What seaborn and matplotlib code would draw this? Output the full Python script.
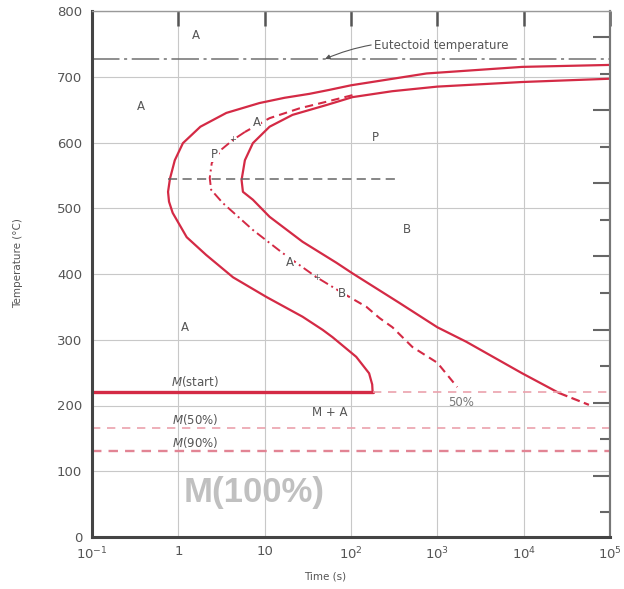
import matplotlib
matplotlib.use("Agg")
import matplotlib.pyplot as plt
from matplotlib.ticker import FixedLocator, NullLocator, NullFormatter
import pandas as pd
import seaborn as sns

sns.set_style("white")
plt.rcParams["font.family"] = ["DejaVu Sans"]

# Isothermal transformation curves: time (s) and temperature (°C)
start_time = [1e5, 9600, 750, 100, 56, 33, 17, 8.7, 3.6, 1.8, 1.13, 0.91, 0.80, 0.76,
              0.78, 0.86, 1.25, 2.1, 4.3, 10.5, 27.5, 47, 61, 115, 162, 176, 178]
start_temp = [718, 715, 705, 687, 680, 674, 668, 660, 645, 624, 599, 573, 545, 525,
              510, 493, 456, 429, 395, 365, 335, 315, 304, 274, 249, 232, 220]

finish_time = [1e5, 9600, 1000, 300, 104, 52, 21, 11.4, 7.3, 5.9, 5.4, 5.6, 7.3,
               11.4, 27.5, 68, 104, 364, 1000, 2160, 9600, 25700]
finish_temp = [697, 692, 685, 678, 669, 657, 642, 624, 599, 573, 543, 525, 513,
               487, 449, 417, 401, 356, 319, 297, 249, 219]
finish_tail_time = [25700, 57000]
finish_tail_temp = [219, 201]

half_time = [104, 52, 25.4, 11.4, 5.9, 4.3, 3.2, 2.44, 2.31, 2.4, 3.27, 7.3, 16.1,
             40, 80, 151, 214, 302, 514, 1000, 1700]
half_temp = [672, 662, 652, 637, 616, 604, 590, 569, 546, 528, 508, 467, 432,
             395, 371, 350, 333, 319, 289, 265, 228]

# Reference temperatures (°C)
eutectoid_temp = 727
nose_temp = 545
nose_span = [0.76, 364]
ms_temp = 220
ms_end_time = 178
m50_temp = 166
m90_temp = 131

x_ticks = [0.1, 1, 10, 100, 1000, 1e4, 1e5]
x_tick_labels = ["$10^{-1}$", "1", "10", "$10^{2}$", "$10^{3}$", "$10^{4}$", "$10^{5}$"]
y_ticks = [0, 100, 200, 300, 400, 500, 600, 700, 800]

RED = "#d42a45"
PINK = "#eba2ad"
TXT = "#555555"

fig = plt.figure(figsize=(6.24, 5.89), dpi=100)
ax = fig.add_axes([92 / 624, 1 - 537 / 589, 518 / 624, 526 / 589])
ax.set_xscale("log")
ax.set_xlim(0.1, 1e5)
ax.set_ylim(0, 800)

ax.grid(True, which="major", color="#c8c8c8", lw=0.8)
ax.set_axisbelow(True)


def curve(t, T, **kw):
    df = pd.DataFrame({"time": t, "temp": T})
    sns.lineplot(data=df, x="time", y="temp", sort=False, estimator=None, ax=ax, **kw)


# Start and finish curves
curve(start_time, start_temp, color=RED, lw=1.6)
curve(finish_time, finish_temp, color=RED, lw=1.6)
curve(finish_tail_time, finish_tail_temp, color=RED, lw=1.6, linestyle=(0, (4, 2)))

# 50 % curve: dashed ends, dash-dot around the nose
curve(half_time[:5], half_temp[:5], color=RED, lw=1.5, linestyle=(0, (4, 2.5)))
curve(half_time[4:15], half_temp[4:15], color=RED, lw=1.4, linestyle=(0, (5, 2, 1, 2)))
curve(half_time[14:], half_temp[14:], color=RED, lw=1.5, linestyle=(0, (4, 2.5)))

# Eutectoid line and nose line
curve([0.1, 1e5], [eutectoid_temp] * 2, color="#707070", lw=1.1, linestyle=(0, (18, 3, 2, 3)))
curve(nose_span, [nose_temp] * 2, color="#666666", lw=1.1, linestyle=(0, (6, 3.5)))

# Martensite lines
curve([0.1, ms_end_time], [ms_temp] * 2, color=RED, lw=2.4)
curve([ms_end_time, 1e5], [ms_temp] * 2, color=PINK, lw=1.2, linestyle=(0, (5, 4)))
curve([0.1, 1e5], [m50_temp] * 2, color=PINK, lw=1.2, linestyle=(0, (5, 4)))
curve([0.1, 1e5], [m90_temp] * 2, color="#e28494", lw=1.7, linestyle=(0, (4, 3)))

# Region labels
lab = dict(color=TXT, fontsize=8.5, ha="center", va="center")
boxed = dict(lab, bbox=dict(fc="white", ec="none", pad=0.3))
ax.text(1.58, 762, "A", **lab)
ax.text(0.37, 655, "A", **lab)
ax.text(1.19, 319, "A", **lab)
ax.text(192, 608, "P", **lab)
ax.text(440, 467, "B", **lab)
ax.text(2.64, 581, "P", **boxed)
ax.text(4.27, 604, "+", color=TXT, fontsize=6, ha="center", va="center")
ax.text(8.1, 630, "A", **boxed)
ax.text(19.5, 417, "A", **boxed)
ax.text(40, 395, "+", color=TXT, fontsize=6, ha="center", va="center")
ax.text(79, 371, "B", **boxed)
ax.text(56, 190, "M + A", **lab)
ax.text(1900, 205, "50%", color="#777777", fontsize=8.5, ha="center", va="center")
ax.text(1.55, 237, "$M$(start)", **lab)
ax.text(1.55, 178, "$M$(50%)", **lab)
ax.text(1.55, 144, "$M$(90%)", **lab)
ax.text(7.6, 67, "M(100%)", color="#c0c0c0", fontsize=25, fontweight="bold",
        family="Liberation Sans", ha="center", va="center")

ax.annotate("Eutectoid temperature", xy=(50, eutectoid_temp), xytext=(187, 748),
            color=TXT, fontsize=8.5, ha="left", va="center",
            arrowprops=dict(arrowstyle="-|>", color="#555555", lw=0.8,
                            mutation_scale=7, shrinkA=0, shrinkB=0,
                            connectionstyle="arc3,rad=0.15"))

# Axes and ticks
ax.set_xticks(x_ticks)
ax.set_xticklabels(x_tick_labels)
ax.xaxis.set_minor_locator(NullLocator())
ax.set_yticks(y_ticks)
ax.tick_params(axis="x", direction="in", length=11, width=1.8, color="#555555",
               labelsize=9.5, labelcolor=TXT, pad=6, top=True)
ax.tick_params(axis="y", direction="in", length=15, width=1.8, color="#555555",
               labelsize=9.5, labelcolor=TXT, pad=7)
ax.set_xlabel("Time (s)", fontsize=7.5, color=TXT)
ax.set_ylabel("Temperature (°C)", fontsize=7.5, color=TXT)
ax.xaxis.set_label_coords(0.45, -0.066)
ax.yaxis.set_label_coords(-0.133, 0.52)

for side in ("left", "bottom"):
    ax.spines[side].set_color("#444444")
    ax.spines[side].set_linewidth(2.2)
ax.spines["top"].set_color("#999999")
ax.spines["top"].set_linewidth(1.0)
ax.spines["right"].set_color("#777777")
ax.spines["right"].set_linewidth(1.5)

# Fahrenheit scale on the right (ticks only)
sec = ax.secondary_yaxis("right", functions=(lambda c: c * 9 / 5 + 32,
                                             lambda f: (f - 32) * 5 / 9))
sec.yaxis.set_major_locator(FixedLocator(list(range(200, 1401, 200))))
sec.yaxis.set_minor_locator(FixedLocator(list(range(100, 1401, 200))))
sec.yaxis.set_major_formatter(NullFormatter())
sec.tick_params(which="major", direction="in", length=12, width=1.5, color="#666666")
sec.tick_params(which="minor", direction="in", length=7, width=1.5, color="#666666")
sec.spines["right"].set_color("#777777")
sec.spines["right"].set_linewidth(1.5)

fig.savefig("out.png", dpi=100, facecolor="white")
